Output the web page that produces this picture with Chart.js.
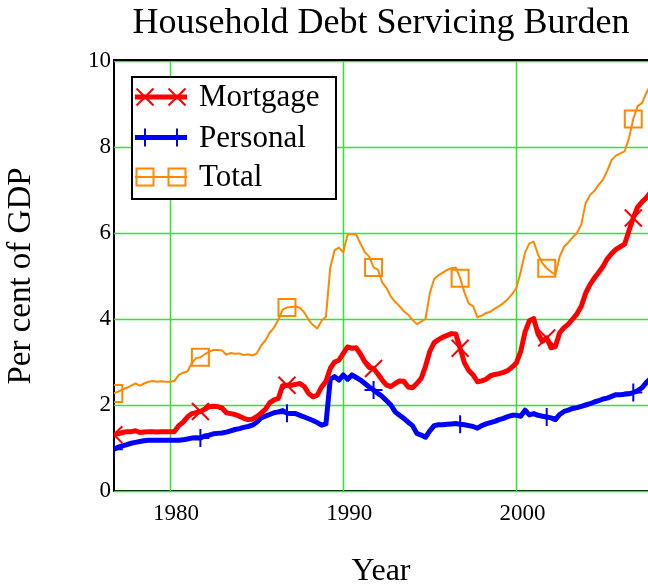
<!DOCTYPE html>
<html>
<head>
<meta charset="utf-8">
<script src="https://cdn.jsdelivr.net/npm/chart.js@4/dist/chart.umd.min.js"></script>
<style>
  body { margin: 0; background: #fff; }
  canvas { display: block; }
</style>
</head>
<body>
<canvas id="myChart" width="648" height="588"></canvas>
<script>
// quarterly observations
var years = [
  1976.75,
  1977.0, 1977.25, 1977.5, 1977.75,
  1978.0, 1978.25, 1978.5, 1978.75,
  1979.0, 1979.25, 1979.5, 1979.75,
  1980.0, 1980.25, 1980.5, 1980.75,
  1981.0, 1981.25, 1981.5, 1981.75,
  1982.0, 1982.25, 1982.5, 1982.75,
  1983.0, 1983.25, 1983.5, 1983.75,
  1984.0, 1984.25, 1984.5, 1984.75,
  1985.0, 1985.25, 1985.5, 1985.75,
  1986.0, 1986.25, 1986.5, 1986.75,
  1987.0, 1987.25, 1987.5, 1987.75,
  1988.0, 1988.25, 1988.5, 1988.75,
  1989.0, 1989.25, 1989.5, 1989.75,
  1990.0, 1990.25, 1990.5, 1990.75,
  1991.0, 1991.25, 1991.5, 1991.75,
  1992.0, 1992.25, 1992.5, 1992.75,
  1993.0, 1993.25, 1993.5, 1993.75,
  1994.0, 1994.25, 1994.5, 1994.75,
  1995.0, 1995.25, 1995.5, 1995.75,
  1996.0, 1996.25, 1996.5, 1996.75,
  1997.0, 1997.25, 1997.5, 1997.75,
  1998.0, 1998.25, 1998.5, 1998.75,
  1999.0, 1999.25, 1999.5, 1999.75,
  2000.0, 2000.25, 2000.5, 2000.75,
  2001.0, 2001.25, 2001.5, 2001.75,
  2002.0, 2002.25, 2002.5, 2002.75,
  2003.0, 2003.25, 2003.5, 2003.75,
  2004.0, 2004.25, 2004.5, 2004.75,
  2005.0, 2005.25, 2005.5, 2005.75,
  2006.0, 2006.25, 2006.5, 2006.75,
  2007.0, 2007.25, 2007.5, 2007.75
];

var mortgage = [
  1.31, 1.33, 1.36, 1.38, 1.38, 1.40, 1.36, 1.37, 1.38, 1.38,
  1.37, 1.38, 1.38, 1.38, 1.38, 1.52, 1.60, 1.72, 1.80, 1.82,
  1.85, 1.90, 1.96, 1.97, 1.96, 1.93, 1.82, 1.80, 1.78, 1.74,
  1.69, 1.66, 1.67, 1.73, 1.81, 1.90, 2.05, 2.12, 2.15, 2.45,
  2.46, 2.46, 2.48, 2.50, 2.43, 2.27, 2.19, 2.23, 2.42, 2.55,
  2.85, 3.00, 3.04, 3.20, 3.35, 3.32, 3.33, 3.18, 3.00, 2.87,
  2.85, 2.72, 2.58, 2.46, 2.43, 2.50, 2.56, 2.55, 2.42, 2.40,
  2.50, 2.62, 2.90, 3.25, 3.45, 3.52, 3.58, 3.62, 3.66, 3.65,
  3.32, 2.98, 2.80, 2.70, 2.54, 2.56, 2.60, 2.68, 2.71, 2.73,
  2.76, 2.80, 2.88, 2.98, 3.25, 3.70, 3.96, 4.01, 3.65, 3.48,
  3.56, 3.33, 3.36, 3.68, 3.80, 3.88, 4.00, 4.12, 4.30, 4.60,
  4.80, 4.95, 5.08, 5.22, 5.40, 5.52, 5.62, 5.68, 5.74, 6.05,
  6.35, 6.60, 6.72, 6.82, 6.95
];

var personal = [
  0.97, 1.02, 1.05, 1.08, 1.11, 1.13, 1.15, 1.17, 1.18, 1.18,
  1.18, 1.18, 1.18, 1.18, 1.18, 1.18, 1.19, 1.21, 1.23, 1.24,
  1.23, 1.28, 1.30, 1.33, 1.34, 1.35, 1.37, 1.40, 1.43, 1.45,
  1.48, 1.50, 1.53, 1.60, 1.70, 1.74, 1.78, 1.82, 1.84, 1.87,
  1.81, 1.80, 1.80, 1.76, 1.72, 1.68, 1.64, 1.59, 1.53, 1.56,
  2.60, 2.66, 2.58, 2.70, 2.60, 2.70, 2.64, 2.58, 2.50, 2.42,
  2.35, 2.27, 2.20, 2.10, 2.00, 1.84, 1.76, 1.69, 1.60, 1.52,
  1.34, 1.30, 1.25, 1.40, 1.52, 1.54, 1.54, 1.55, 1.56, 1.57,
  1.55, 1.54, 1.52, 1.50, 1.46, 1.52, 1.56, 1.59, 1.62, 1.66,
  1.69, 1.73, 1.76, 1.76, 1.74, 1.88, 1.77, 1.80, 1.76, 1.74,
  1.72, 1.70, 1.66, 1.78, 1.85, 1.88, 1.92, 1.94, 1.97, 2.00,
  2.03, 2.07, 2.10, 2.14, 2.16, 2.20, 2.24, 2.24, 2.25, 2.26,
  2.29, 2.33, 2.40, 2.52, 2.62
];

var total = [
  2.27, 2.31, 2.36, 2.40, 2.45, 2.50, 2.45, 2.50, 2.54, 2.56,
  2.54, 2.55, 2.54, 2.54, 2.56, 2.70, 2.75, 2.78, 2.97, 3.09,
  3.11, 3.18, 3.24, 3.28, 3.28, 3.27, 3.17, 3.21, 3.19, 3.20,
  3.16, 3.18, 3.15, 3.20, 3.38, 3.50, 3.68, 3.80, 3.98, 4.22,
  4.27, 4.28, 4.29, 4.26, 4.15, 3.98, 3.86, 3.78, 3.96, 4.05,
  5.20, 5.60, 5.66, 5.55, 5.96, 5.98, 5.96, 5.75, 5.55, 5.45,
  5.20, 5.15, 4.85, 4.72, 4.52, 4.40, 4.30, 4.18, 4.10, 3.98,
  3.88, 3.94, 4.00, 4.60, 4.93, 5.02, 5.08, 5.14, 5.18, 5.20,
  4.95, 4.62, 4.36, 4.30, 4.04, 4.08, 4.14, 4.17, 4.24, 4.30,
  4.37, 4.46, 4.58, 4.72, 5.10, 5.55, 5.76, 5.80, 5.50, 5.30,
  5.18, 5.10, 5.03, 5.45, 5.68, 5.78, 5.90, 6.00, 6.20, 6.70,
  6.88, 6.98, 7.12, 7.24, 7.45, 7.70, 7.80, 7.85, 7.90, 8.20,
  8.65, 8.95, 9.02, 9.25, 9.45
];

var xTicks = [1980, 1990, 2000];
var yTicks = [0, 2, 4, 6, 8, 10];

var serif = "'Liberation Serif', 'Times New Roman', serif";
var gridGreen = 'rgb(40, 235, 40)';
var markEvery = 20;

function drawMarker(ctx, style, x, y, r) {
    ctx.beginPath();
    if (style === 'crossRot') {
        var d = r * Math.SQRT1_2;
        ctx.moveTo(x - d, y - d); ctx.lineTo(x + d, y + d);
        ctx.moveTo(x + d, y - d); ctx.lineTo(x - d, y + d);
    } else if (style === 'cross') {
        ctx.moveTo(x - r, y); ctx.lineTo(x + r, y);
        ctx.moveTo(x, y - r); ctx.lineTo(x, y + r);
    } else {
        var s = r * Math.SQRT1_2;
        ctx.rect(x - s, y - s, 2 * s, 2 * s);
    }
    ctx.stroke();
}

// green grid at the tick values, behind the lines
const gridPlugin = {
    id: 'greenGrid',
    beforeDatasetsDraw(chart) {
        const ctx = chart.ctx;
        const a = chart.chartArea;
        const xs = chart.scales.x, ys = chart.scales.y;
        ctx.save();
        ctx.strokeStyle = gridGreen;
        ctx.lineWidth = 1.5;
        ctx.beginPath();
        xTicks.forEach(function (v) {
            var px = Math.round(xs.getPixelForValue(v)) + 0.5;
            ctx.moveTo(px, a.top); ctx.lineTo(px, a.bottom);
        });
        yTicks.forEach(function (v) {
            var py = Math.round(ys.getPixelForValue(v)) + 0.5;
            ctx.moveTo(a.left, py); ctx.lineTo(a.right, py);
        });
        ctx.stroke();
        ctx.restore();
    }
};

// top frame line + boxed legend inside the plot
const framePlugin = {
    id: 'frame',
    afterDraw(chart) {
        const ctx = chart.ctx;
        const a = chart.chartArea;
        ctx.save();
        ctx.strokeStyle = '#000';
        ctx.lineWidth = 2;
        ctx.beginPath();
        ctx.moveTo(a.left - 1, a.top - 1);
        ctx.lineTo(a.right, a.top - 1);
        ctx.stroke();

        var bx = a.left + 18, by = a.top + 16, bw = 204, bh = 122;
        ctx.fillStyle = '#fff';
        ctx.fillRect(bx, by, bw, bh);
        ctx.strokeRect(bx, by, bw, bh);

        var rows = [20, 60.5, 100];
        chart.data.datasets.forEach(function (ds, i) {
            var y = by + rows[i];
            ctx.strokeStyle = ds.borderColor;
            ctx.lineWidth = ds.borderWidth;
            ctx.beginPath();
            ctx.moveTo(bx + 3, y);
            ctx.lineTo(bx + 55, y);
            ctx.stroke();
            ctx.lineWidth = 2;
            drawMarker(ctx, ds.pointStyle, bx + 13, y, ds.markSize);
            drawMarker(ctx, ds.pointStyle, bx + 45, y, ds.markSize);
            ctx.fillStyle = '#000';
            ctx.font = '31px ' + serif;
            ctx.textAlign = 'left';
            ctx.textBaseline = 'middle';
            ctx.fillText(ds.label, bx + 67, y + 1);
        });
        ctx.restore();
    }
};

function series(label, values, color, width, style, size) {
    return {
        label: label,
        data: values,
        borderColor: color,
        borderWidth: width,
        pointStyle: style,
        markSize: size,
        pointRadius: function (c) { return c.dataIndex % markEvery === 0 ? size : 0; },
        pointBorderColor: color,
        pointBackgroundColor: 'rgba(0,0,0,0)',
        pointBorderWidth: 2,
        tension: 0,
        borderJoinStyle: 'round',
        clip: 0
    };
}

const data = {
    labels: years,
    datasets: [
        series('Mortgage', mortgage, '#ff0000', 5, 'crossRot', 12),
        series('Personal', personal, '#0000ff', 5, 'cross', 9),
        series('Total', total, '#ff8800', 2, 'rect', 12)
    ]
};

const config = {
    type: 'line',
    data: data,
    options: {
        responsive: false,
        animation: false,
        layout: { padding: 0, autoPadding: false },
        plugins: {
            legend: { display: false },
            tooltip: { enabled: false },
            title: {
                display: true,
                text: 'Household Debt Servicing Burden',
                fullSize: false,
                color: '#000',
                font: { family: serif, size: 36, weight: 'normal', lineHeight: 1 },
                padding: { top: 6, bottom: 19 }
            }
        },
        scales: {
            x: {
                type: 'linear',
                min: 1976.76,
                max: 2007.6,
                afterBuildTicks: function (s) { s.ticks = xTicks.map(function (v) { return { value: v }; }); },
                afterFit: function (s) { s.height = 97; },
                ticks: {
                    color: '#000',
                    font: { family: serif, size: 23 },
                    padding: 9,
                    labelOffset: 6,
                    maxRotation: 0,
                    callback: function (v) { return String(v); }
                },
                grid: { display: false, drawTicks: false },
                border: { display: true, color: '#000', width: 2 },
                title: {
                    display: true,
                    text: 'Year',
                    color: '#000',
                    font: { family: serif, size: 32, lineHeight: 1 },
                    padding: { top: 0, bottom: 0 }
                }
            },
            y: {
                min: 0,
                max: 10,
                afterBuildTicks: function (s) { s.ticks = yTicks.map(function (v) { return { value: v }; }); },
                afterFit: function (s) { s.width = 114; },
                ticks: {
                    color: '#000',
                    font: { family: serif, size: 23 },
                    padding: 3
                },
                grid: { display: false, drawTicks: false },
                border: { display: true, color: '#000', width: 2 },
                title: {
                    display: true,
                    text: 'Per cent of GDP',
                    color: '#000',
                    font: { family: serif, size: 33, lineHeight: 1 },
                    padding: { top: 5, bottom: 0 }
                }
            }
        }
    },
    plugins: [gridPlugin, framePlugin]
};

const myChart = new Chart(document.getElementById('myChart'), config);
</script>
</body>
</html>
